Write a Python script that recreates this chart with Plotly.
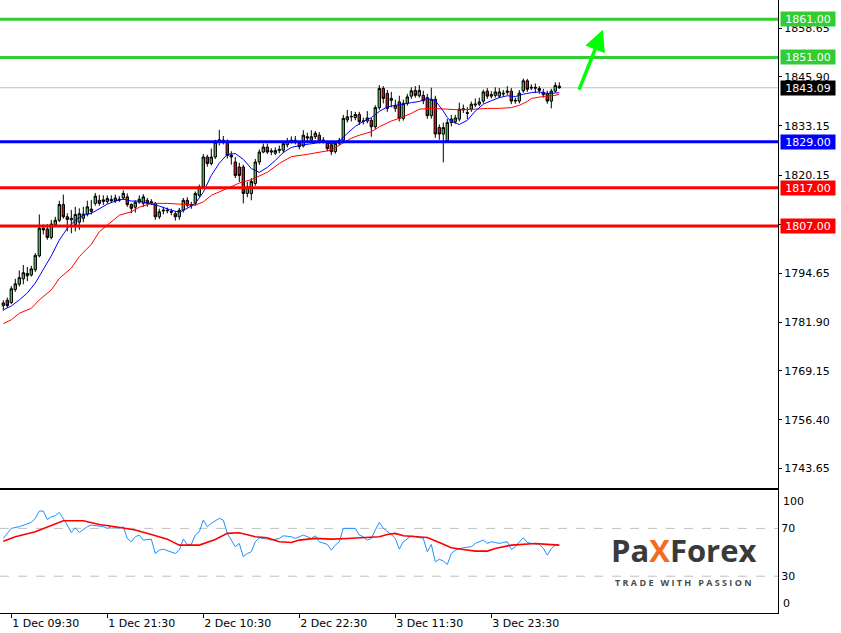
import plotly.graph_objects as go

# ---------------- data ----------------
bar_index = list(range(140))
opens = [1786.2,1787.6,1787.0,1790.4,1791.8,1793.2,1794.6,1794.2,1795.6,1799.2,
         1806.4,1806.2,1804.0,1807.3,1808.5,1812.6,1809.4,1808.6,1807.4,1808.0,
         1809.0,1810.1,1810.8,1812.9,1813.7,1813.4,1813.4,1813.9,1813.6,1814.0,
         1814.3,1814.6,1812.6,1811.9,1813.2,1812.9,1813.7,1813.0,1812.9,1809.4,
         1810.9,1811.1,1810.8,1810.2,1809.4,1811.1,1813.7,1812.3,1812.9,1815.0,
         1817.2,1825.0,1823.3,1825.0,1829.0,1829.4,1828.9,1825.5,1823.7,1822.4,
         1822.4,1815.5,1815.5,1818.1,1823.7,1826.3,1827.6,1826.3,1826.0,1826.7,
         1826.8,1828.2,1829.0,1829.4,1828.6,1827.9,1830.3,1829.4,1830.3,1830.7,
         1829.3,1828.6,1828.2,1826.4,1828.6,1829.4,1834.7,1835.5,1835.3,1836.1,
         1834.3,1834.4,1834.6,1832.9,1837.9,1842.9,1841.6,1839.8,1837.7,1839.4,
         1835.1,1839.0,1840.9,1842.4,1841.0,1841.1,1840.5,1835.8,1840.1,1832.7,
         1831.0,1829.3,1834.0,1834.2,1834.9,1837.3,1836.6,1837.5,1838.6,1838.8,
         1839.6,1842.2,1840.9,1841.1,1840.9,1841.7,1841.9,1842.2,1839.6,1839.6,
         1842.3,1844.9,1843.0,1843.2,1842.9,1841.3,1841.6,1839.6,1842.2,1843.5]
highs = [1787.6,1788.3,1791.3,1793.2,1795.4,1796.8,1796.3,1796.6,1799.9,1810.0,
         1807.4,1807.5,1808.6,1809.4,1813.6,1815.2,1810.3,1811.2,1812.0,1811.6,
         1812.0,1813.6,1813.8,1815.6,1815.1,1815.0,1815.0,1815.0,1815.2,1814.8,
         1816.3,1815.5,1812.9,1813.7,1815.0,1815.3,1814.3,1814.0,1813.3,1811.5,
         1812.0,1811.8,1811.5,1810.8,1811.7,1814.3,1814.5,1813.3,1816.0,1817.8,
         1825.8,1825.6,1827.2,1829.5,1832.1,1830.5,1829.6,1826.5,1825.0,1823.5,
         1823.0,1818.5,1819.5,1824.5,1827.0,1828.5,1828.5,1827.3,1827.5,1828.0,
         1829.0,1830.0,1830.4,1830.5,1829.2,1832.0,1831.4,1832.0,1831.8,1831.5,
         1830.2,1829.3,1828.7,1829.2,1830.0,1836.0,1837.3,1837.0,1836.8,1836.8,
         1835.3,1837.0,1835.2,1838.5,1843.8,1843.5,1842.5,1842.0,1840.0,1841.0,
         1840.0,1841.5,1843.2,1843.5,1843.8,1842.3,1841.5,1843.1,1841.0,1833.5,
         1834.0,1835.0,1836.0,1836.0,1839.2,1838.7,1838.0,1839.5,1840.3,1840.5,
         1842.6,1843.0,1842.2,1843.2,1843.0,1842.5,1843.5,1843.0,1840.5,1842.5,
         1845.5,1845.4,1844.0,1844.2,1843.5,1842.8,1842.3,1842.8,1844.5,1844.5]
lows = [1784.9,1785.6,1786.6,1789.8,1791.2,1791.8,1792.6,1793.8,1795.0,1798.8,
        1804.8,1803.4,1803.5,1806.8,1808.0,1808.9,1805.6,1805.1,1805.6,1806.0,
        1808.0,1809.5,1810.0,1812.3,1812.3,1812.5,1812.8,1813.0,1813.0,1813.3,
        1813.8,1812.0,1810.3,1810.5,1812.8,1812.0,1812.0,1812.5,1808.6,1808.8,
        1810.0,1810.3,1809.8,1808.4,1808.6,1810.5,1811.8,1811.5,1812.3,1814.5,
        1816.7,1822.5,1822.8,1824.5,1828.0,1828.3,1824.6,1823.0,1819.5,1818.5,
        1812.9,1814.5,1813.7,1817.5,1823.0,1826.0,1825.8,1825.5,1825.5,1826.0,
        1826.0,1827.5,1828.5,1828.3,1827.0,1827.5,1829.0,1828.7,1829.7,1828.5,
        1828.5,1826.5,1825.5,1825.9,1828.0,1829.0,1834.0,1834.3,1834.6,1833.4,
        1833.5,1833.8,1830.3,1832.3,1837.3,1839.0,1836.8,1838.0,1836.8,1834.3,
        1834.5,1838.4,1840.2,1840.5,1840.5,1838.8,1835.0,1835.0,1830.0,1829.5,
        1823.6,1828.7,1833.0,1833.7,1834.3,1836.5,1834.9,1836.8,1838.0,1838.3,
        1839.0,1840.2,1840.3,1840.5,1840.4,1840.8,1841.2,1838.8,1838.9,1839.0,
        1841.8,1842.0,1842.5,1841.7,1841.5,1840.5,1838.9,1837.7,1841.8,1842.8]
closes = [1786.9,1786.2,1790.6,1791.9,1793.5,1794.8,1794.0,1795.8,1799.3,1806.4,
          1806.0,1804.0,1807.5,1808.5,1812.6,1809.4,1808.7,1809.0,1810.0,1810.2,
          1810.1,1812.0,1811.4,1814.8,1812.9,1813.8,1814.2,1813.6,1814.3,1813.8,
          1815.5,1812.6,1811.6,1813.2,1814.0,1814.6,1812.9,1813.3,1809.4,1810.7,
          1811.1,1811.0,1810.6,1809.4,1811.1,1813.7,1812.4,1812.6,1815.5,1817.2,
          1825.0,1823.3,1825.0,1828.9,1829.5,1829.2,1825.4,1825.0,1820.2,1820.2,
          1815.5,1817.2,1818.6,1823.7,1826.3,1827.6,1826.3,1826.6,1826.7,1827.0,
          1828.5,1829.0,1829.4,1829.0,1827.7,1830.7,1830.0,1830.3,1831.2,1829.0,
          1829.4,1827.2,1826.4,1828.6,1829.4,1835.1,1835.5,1835.6,1836.1,1834.2,
          1834.4,1835.2,1832.9,1837.9,1842.9,1840.3,1837.7,1840.3,1838.5,1835.1,
          1839.0,1840.7,1842.3,1841.1,1842.4,1839.7,1835.8,1840.1,1831.0,1831.0,
          1832.7,1834.0,1834.9,1835.2,1837.5,1837.6,1836.4,1838.8,1838.8,1839.4,
          1842.0,1840.9,1841.3,1842.0,1842.0,1841.5,1842.2,1839.6,1839.8,1841.7,
          1844.9,1842.7,1843.2,1843.0,1842.4,1841.9,1839.6,1842.2,1843.7,1843.09]

# moving averages (bar index, price)
ma_fast_idx = [0,2,4,6,8,10,12,14,16,18,20,22,24,26,28,30,32,34,37,39,42,44,46,48,50,52,54,
               56,58,60,62,64,66,68,70,72,75,78,80,82,84,86,88,90,92,94,96,98,100,102,104,
               106,108,110,111,112,114,116,118,120,122,124,126,128,130,132,134,136,138,139]
ma_fast_val = [1785.1,1786.1,1787.7,1789.5,1792.1,1795.5,1799.2,1803.3,1806.4,1808.5,1809.8,
               1810.3,1811.6,1812.7,1813.5,1814.0,1813.5,1813.5,1812.7,1812.2,1811.1,1810.6,
               1811.6,1812.9,1815.8,1820.2,1823.4,1825.7,1825.9,1824.4,1822.0,1821.0,1822.3,
               1824.1,1826.2,1827.5,1828.2,1828.6,1829.1,1828.4,1829.1,1831.2,1833.0,1834.3,
               1835.3,1836.9,1838.1,1838.5,1839.0,1839.2,1839.5,1840.3,1839.7,1837.0,1835.3,
               1834.3,1833.5,1834.6,1837.0,1838.8,1839.7,1840.5,1841.0,1840.8,1841.4,1841.8,
               1842.0,1841.6,1841.7,1841.8]
ma_slow_idx = [0,2,4,7,9,12,14,17,19,22,24,27,29,32,34,37,41,44,48,50,52,56,59,62,66,69,72,
               76,79,82,84,87,89,92,94,97,99,102,104,107,111,114,118,121,124,127,129,131,132,
               135,138,139]
ma_slow_val = [1781.5,1782.5,1784.2,1785.5,1787.7,1790.3,1793.3,1796.0,1799.0,1802.2,1805.5,
               1808.1,1809.8,1810.7,1811.9,1812.9,1812.9,1812.7,1812.4,1813.3,1815.0,1816.8,
               1818.2,1819.1,1821.0,1823.3,1825.1,1825.7,1826.2,1826.8,1828.1,1829.9,1830.7,
               1831.6,1832.9,1834.4,1835.1,1836.4,1837.5,1837.7,1837.5,1837.3,1837.5,1837.7,
               1837.7,1837.9,1838.5,1839.5,1840.3,1840.8,1841.1,1841.4]

# RSI and its average
rsi_idx = [0,2,4,5,7,8,9,10,11,12,13,14,15,16,17,18,19,20,21,22,24,25,26,27,29,30,31,32,33,
           34,35,37,38,39,40,42,43,44,45,46,47,48,49,50,51,52,54,55,56,57,58,59,60,61,62,63,
           64,66,67,69,70,72,73,75,76,77,78,79,81,82,83,84,85,87,88,89,90,91,92,93,94,95,96,
           97,98,99,100,101,102,103,105,106,107,108,109,110,111,112,113,115,116,117,118,120,
           121,122,123,124,125,126,127,128,129,130,131,132,134,135,136,137,138,139]
rsi_val = [61.6,70.0,71.4,72.8,75.0,78.4,84.5,84.5,77.5,79.7,80.6,83.4,78.4,72.8,66.6,70.5,
           66.6,69.4,71.4,72.8,72.2,71.4,70.0,71.4,70.0,71.4,61.6,58.8,63.0,64.4,60.2,61.0,
           49.0,51.8,52.6,50.4,49.0,51.8,61.0,56.6,56.6,64.4,67.2,77.0,71.4,74.2,78.4,77.0,
           65.8,60.2,54.6,57.4,46.2,49.0,50.4,58.8,62.1,61.0,60.2,61.6,63.8,63.0,61.6,64.4,
           63.0,61.6,63.8,58.8,56.6,51.8,56.0,58.8,70.0,70.0,70.0,64.4,63.0,60.2,61.6,68.6,
           75.0,70.0,67.7,64.9,61.6,52.6,58.8,61.6,63.8,63.0,61.6,50.4,56.6,42.0,44.2,42.6,
           39.8,49.0,51.8,53.8,54.0,54.6,57.4,60.2,57.4,58.8,58.2,57.4,58.2,58.8,52.4,54.6,
           58.8,62.1,58.2,57.4,56.6,53.2,47.6,53.2,56.0,56.0]
rsi_ma_idx = [0,3,8,12,15,20,24,28,33,37,41,44,49,53,56,59,63,66,69,72,74,78,82,86,90,94,96,
              98,100,103,106,109,112,115,118,121,123,127,129,133,136,139]
rsi_ma_val = [59.3,63.0,67.2,72.2,76.4,76.4,73.3,71.4,68.6,64.9,61.0,56.0,56.0,60.7,65.8,66.3,
              63.0,62.1,58.8,58.2,60.2,61.6,61.0,61.6,62.1,63.0,64.9,65.8,63.8,63.0,62.4,58.2,
              53.8,52.4,51.0,51.0,53.2,56.0,56.6,57.4,56.6,56.0]

tick_idx = [2, 26, 50, 74, 98, 122]
tick_text = ["1 Dec 09:30", "1 Dec 21:30", "2 Dec 10:30", "2 Dec 22:30", "3 Dec 11:30", "3 Dec 23:30"]
price_ticks = [1743.65, 1756.40, 1769.15, 1781.90, 1794.65, 1807.40, 1820.15, 1833.15, 1845.90, 1858.65]
level_prices = [1861.00, 1851.00, 1829.00, 1817.00, 1807.00]
level_colors = ["#32CD32", "#32CD32", "#0000FF", "#FF0000", "#FF0000"]
current_price = 1843.09
rsi_levels = [70, 30]
rsi_tick_vals = [70, 30]
target_arrow = {"x": 149.9, "y": 1858.2, "ax": 143.8, "ay": 1842.2}

FONT = "DejaVu Sans"

# ---------------- figure ----------------
fig = go.Figure()
fig.add_trace(go.Candlestick(
    x=bar_index, open=opens, high=highs, low=lows, close=closes,
    increasing=dict(line=dict(color="black", width=1), fillcolor="#32CD32"),
    decreasing=dict(line=dict(color="black", width=1), fillcolor="#FF0000"),
    whiskerwidth=0, xaxis="x", yaxis="y", hoverinfo="skip"))
fig.add_trace(go.Scatter(x=ma_slow_idx, y=ma_slow_val, mode="lines",
                         line=dict(color="#FF0000", width=1), xaxis="x", yaxis="y"))
fig.add_trace(go.Scatter(x=ma_fast_idx, y=ma_fast_val, mode="lines",
                         line=dict(color="#0000FF", width=1), xaxis="x", yaxis="y"))
fig.add_trace(go.Scatter(x=rsi_idx, y=rsi_val, mode="lines",
                         line=dict(color="#1E90FF", width=1), xaxis="x2", yaxis="y2"))
fig.add_trace(go.Scatter(x=rsi_ma_idx, y=rsi_ma_val, mode="lines",
                         line=dict(color="#FF0000", width=1.6), xaxis="x2", yaxis="y2"))

shapes = []
shapes.append(dict(type="line", xref="paper", x0=0, x1=1, yref="y", y0=current_price, y1=current_price,
                   line=dict(color="#C0C0C0", width=1), layer="below"))
for p, c in zip(level_prices, level_colors):
    shapes.append(dict(type="line", xref="paper", x0=0, x1=1, yref="y", y0=p, y1=p,
                       line=dict(color=c, width=3)))
for lv in rsi_levels:
    shapes.append(dict(type="line", xref="paper", x0=0, x1=1, yref="y2", y0=lv, y1=lv,
                       line=dict(color="#C0C0C0", width=1, dash="dash"), layer="below"))

annotations = []
for p, c in zip(level_prices + [current_price], level_colors + ["#000000"]):
    annotations.append(dict(xref="paper", x=1, xanchor="left", xshift=2, yref="y", y=p,
                            text=f"{p:.2f}", showarrow=False, bgcolor=c, width=52, height=12,
                            borderpad=1, font=dict(family=FONT, size=11, color="white")))
annotations.append(dict(xref="paper", x=1, xanchor="left", xshift=3, yref="y2", y=100,
                        yanchor="top", text="100", showarrow=False,
                        font=dict(family=FONT, size=11, color="black")))
annotations.append(dict(xref="paper", x=1, xanchor="left", xshift=3, yref="y2", y=0,
                        yanchor="bottom", text="0", showarrow=False,
                        font=dict(family=FONT, size=11, color="black")))
annotations.append(dict(xref="x", yref="y", axref="x", ayref="y", text="", showarrow=True,
                        arrowhead=2, arrowsize=1.2, arrowwidth=3.5, arrowcolor="#00FF00",
                        **target_arrow))
# logo
annotations.append(dict(xref="paper", yref="paper", x=0.879, y=0.102, xanchor="center", yanchor="middle",
                        showarrow=False,
                        text="<b><span style='color:#3a3a3a'>Pa</span><span style='color:#F26B21'>X</span>"
                             "<span style='color:#3a3a3a'>Forex</span></b>",
                        font=dict(family="Open Sans", size=31)))
annotations.append(dict(xref="paper", yref="paper", x=0.879, y=0.05, xanchor="center", yanchor="middle",
                        showarrow=False,
                        text="<b>T R A D E  &nbsp;W I T H  &nbsp;P A S S I O N</b>",
                        font=dict(family="Open Sans", size=9, color="#4a4a4a")))

axis_font = dict(family=FONT, size=11, color="black")
fig.update_layout(
    width=841, height=633,
    margin=dict(l=0, r=63, t=0, b=20),
    paper_bgcolor="white", plot_bgcolor="white",
    showlegend=False, boxgap=0.15,
    shapes=shapes, annotations=annotations,
    xaxis=dict(domain=[0, 1], range=[-0.825, 193.675], anchor="y", showticklabels=False,
               showline=True, linecolor="black", linewidth=1, showgrid=False, zeroline=False,
               rangeslider=dict(visible=False), ticks=""),
    yaxis=dict(domain=[0.2034, 1], range=[1738.5, 1866.0], side="right", anchor="x",
               showline=True, linecolor="black", linewidth=1, showgrid=False, zeroline=False,
               tickvals=price_ticks, ticktext=[f"{v:.2f}" for v in price_ticks],
               ticks="outside", ticklen=3, tickcolor="black", tickfont=axis_font),
    xaxis2=dict(domain=[0, 1], anchor="y2", matches="x", showline=True, mirror=True,
                linecolor="black", linewidth=1, showgrid=False, zeroline=False,
                tickvals=tick_idx, ticktext=tick_text, ticks="outside", ticklen=4,
                tickcolor="black", ticklabelposition="outside right", tickfont=axis_font),
    yaxis2=dict(domain=[0, 0.2012], range=[-0.8, 102.4], side="right", anchor="x2",
                showline=True, linecolor="black", linewidth=1, showgrid=False, zeroline=False,
                tickvals=rsi_tick_vals, ticktext=[str(v) for v in rsi_tick_vals],
                ticks="", tickfont=axis_font),
)

fig.write_html("out.html", post_script="document.body.style.margin='0px';",
               config={"displayModeBar": False})
